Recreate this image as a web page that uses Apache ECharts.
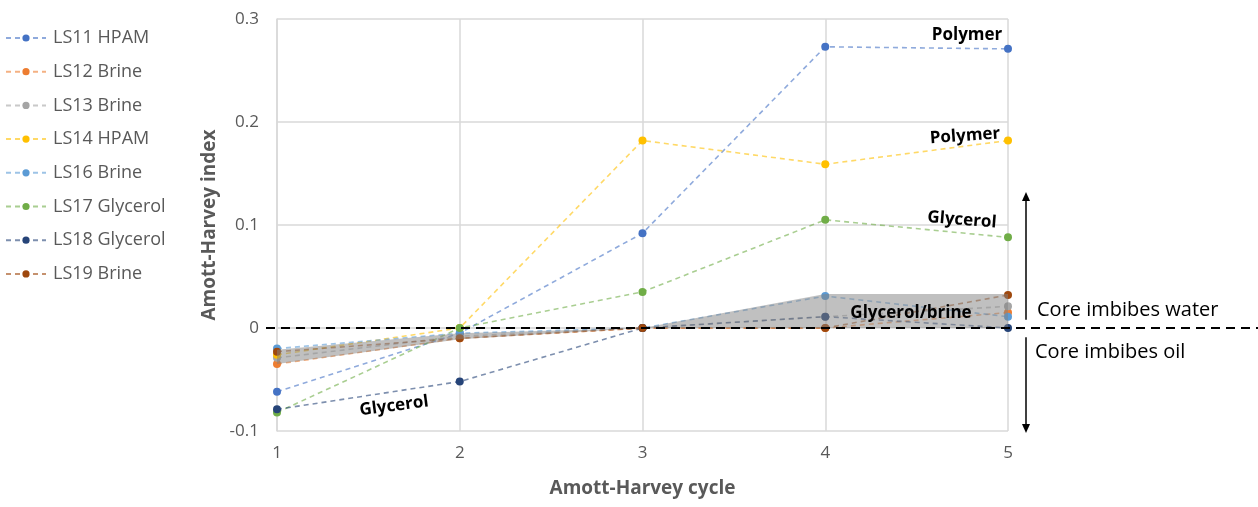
<!DOCTYPE html>
<html>
<head>
<meta charset="utf-8">
<script src="https://cdn.jsdelivr.net/npm/echarts@6/dist/echarts.min.js"></script>
<style>
html, body { margin: 0; padding: 0; background: #fff; }
#chart { width: 1258px; height: 507px; }
</style>
</head>
<body>
<div id="chart"></div>
<script>
// 数据：Amott-Harvey index per cycle
const cycles = [1, 2, 3, 4, 5]
const seriesNames = ['LS11 HPAM', 'LS12 Brine', 'LS13 Brine', 'LS14 HPAM', 'LS16 Brine', 'LS17 Glycerol', 'LS18 Glycerol', 'LS19 Brine']
const ls11Hpam = [-0.062, -0.005, 0.092, 0.273, 0.271]
const ls12Brine = [-0.035, -0.010, 0, 0, 0.015]
const ls13Brine = [-0.029, -0.008, 0, 0.011, 0.021]
const ls14Hpam = [-0.026, 0, 0.182, 0.159, 0.182]
const ls16Brine = [-0.020, -0.005, 0, 0.031, 0.011]
const ls17Glycerol = [-0.082, 0, 0.035, 0.105, 0.088]
const ls18Glycerol = [-0.079, -0.052, 0, 0.011, 0]
const ls19Brine = [-0.023, -0.010, 0, 0, 0.032]
// gray Glycerol/brine envelope
const bandLower = [-0.035, -0.011, 0, 0, 0]
const bandUpper = [-0.021, -0.005, 0, 0.033, 0.033]
const colors = ['#4472C4', '#ED7D31', '#A5A5A5', '#FFC000', '#5B9BD5', '#70AD47', '#264478', '#9E480E']
const allValues = [ls11Hpam, ls12Brine, ls13Brine, ls14Hpam, ls16Brine, ls17Glycerol, ls18Glycerol, ls19Brine]

const FONT = '"Open Sans", sans-serif'
const chart = echarts.init(document.getElementById('chart'))

const lineSeries = seriesNames.map((name, i) => ({
  name,
  type: 'line',
  data: cycles.map((c, j) => [c, allValues[i][j]]),
  symbol: 'circle',
  symbolSize: 8,
  itemStyle: { color: colors[i] },
  lineStyle: { color: colors[i], width: 1.6, type: [5, 4], opacity: 0.6 },
  z: 2
}))

const option = {
  backgroundColor: '#fff',
  animation: false,
  legend: {
    data: seriesNames,
    orient: 'vertical',
    left: 0,
    top: 24,
    padding: 5,
    itemWidth: 40,
    itemHeight: 9,
    itemGap: 15.7,
    textStyle: { color: '#595959', fontSize: 18, fontFamily: FONT, padding: [0, 0, 0, 2] }
  },
  grid: { left: 277, right: 250, top: 19, bottom: 76 },
  xAxis: {
    type: 'value',
    min: 1, max: 5, interval: 1,
    name: 'Amott-Harvey cycle',
    nameLocation: 'middle',
    nameGap: 48,
    nameTextStyle: { color: '#595959', fontSize: 19, fontWeight: 'bold', fontFamily: FONT },
    axisLine: { show: true, lineStyle: { color: '#D9D9D9', width: 1.5 } },
    axisTick: { show: false },
    axisLabel: { color: '#595959', fontSize: 17, fontFamily: FONT, margin: 14 },
    splitLine: { show: true, lineStyle: { color: '#D9D9D9', width: 1.5 } }
  },
  yAxis: {
    type: 'value',
    min: -0.1, max: 0.3, interval: 0.1,
    name: 'Amott-Harvey index',
    nameLocation: 'middle',
    nameGap: 44,
    nameTextStyle: { color: '#595959', fontSize: 19, fontWeight: 'bold', fontFamily: FONT },
    axisLine: { show: true, lineStyle: { color: '#D9D9D9', width: 1.5 } },
    axisTick: { show: false },
    axisLabel: { color: '#595959', fontSize: 17, fontFamily: FONT, margin: 18, formatter: v => String(Math.round(v * 10) / 10) },
    splitLine: { show: true, lineStyle: { color: '#D9D9D9', width: 1.5 } }
  },
  series: lineSeries.concat([{
    type: 'custom',
    name: 'band',
    silent: true,
    z: 3,
    data: [[3, 0]],
    renderItem: (params, api) => {
      const top = cycles.map((c, i) => api.coord([c, bandUpper[i]]))
      const bottom = cycles.map((c, i) => api.coord([c, bandLower[i]])).reverse()
      return {
        type: 'polygon',
        shape: { points: top.concat(bottom) },
        style: { fill: 'rgba(130,130,130,0.5)' }
      }
    }
  }])
}
chart.setOption(option)

// 注释：零线、箭头和文字
const px = (x, y) => chart.convertToPixel({ gridIndex: 0 }, [x, y])
const y0 = px(1, 0)[1]
const arrowX = 1026
const upTop = px(5, 0.132)[1], upBottom = px(5, 0.008)[1]
const downTop = px(5, -0.009)[1], downTip = px(5, -0.102)[1]
const boldText = (text, x, y, rot) => ({
  type: 'text', x, y, rotation: rot || 0, z: 10,
  style: { text, fill: '#000', font: 'bold 17px ' + FONT, align: 'center', verticalAlign: 'middle' }
})

chart.setOption({
  graphic: [
    { type: 'line', z: 9, shape: { x1: 266, y1: y0, x2: 1258, y2: y0 }, style: { stroke: '#000', lineWidth: 2, lineDash: [9, 6] } },
    { type: 'line', z: 9, shape: { x1: arrowX, y1: upBottom, x2: arrowX, y2: upTop + 6 }, style: { stroke: '#000', lineWidth: 1.5 } },
    { type: 'polygon', z: 9, shape: { points: [[arrowX, upTop], [arrowX - 4, upTop + 9], [arrowX + 4, upTop + 9]] }, style: { fill: '#000' } },
    { type: 'line', z: 9, shape: { x1: arrowX, y1: downTop, x2: arrowX, y2: downTip - 6 }, style: { stroke: '#000', lineWidth: 1.5 } },
    { type: 'polygon', z: 9, shape: { points: [[arrowX, downTip], [arrowX - 4, downTip - 9], [arrowX + 4, downTip - 9]] }, style: { fill: '#000' } },
    { type: 'text', x: 1037, y: 310, z: 10, style: { text: 'Core imbibes water', fill: '#000', font: '20px ' + FONT, verticalAlign: 'middle' } },
    { type: 'text', x: 1035, y: 352, z: 10, style: { text: 'Core imbibes oil', fill: '#000', font: '20px ' + FONT, verticalAlign: 'middle' } },
    boldText('Polymer', 967, 35),
    boldText('Polymer', 965, 136, 0.07),
    boldText('Glycerol', 962, 220, -0.08),
    boldText('Glycerol/brine', 911, 313),
    boldText('Glycerol', 394, 406, 0.13)
  ]
})
</script>
</body>
</html>
